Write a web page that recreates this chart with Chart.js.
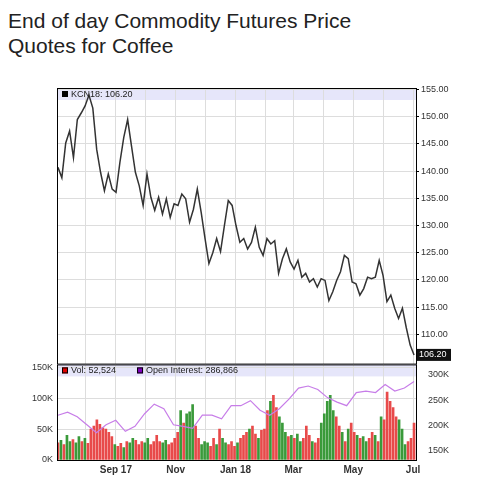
<!DOCTYPE html>
<html>
<head>
<meta charset="utf-8">
<script src="https://cdn.jsdelivr.net/npm/chart.js@4"></script>
<style>
  body { margin: 0; background: #fff; width: 478px; height: 480px; position: relative; overflow: hidden; }
  #title { position: absolute; left: 8px; top: 8px; font: 21px "Liberation Sans", Arial, sans-serif; line-height: 25px; color: #222; }
  #priceWrap { position: absolute; left: 0; top: 80px; width: 478px; height: 291px; }
  #volWrap { position: absolute; left: 0; top: 355px; width: 478px; height: 125px; }
</style>
</head>
<body>
<div id="title">End of day Commodity Futures Price<br>Quotes for Coffee</div>
<div id="priceWrap"><canvas id="priceChart"></canvas></div>
<div id="volWrap"><canvas id="volChart"></canvas></div>
<script>
// days counted from Jul 3 2017
const monthDays = [29, 60, 90, 121, 151, 182, 213, 241, 272, 302, 333, 363];
const monthLabels = { 60: 'Sep 17', 121: 'Nov', 182: 'Jan 18', 241: 'Mar', 302: 'May', 363: 'Jul' };

const price = [140.7, 138.8, 145.2, 147.4, 142.5, 149.5, 150.7, 152, 154, 151.6, 144, 139.8, 136.4, 139.5, 136.7,
  136.1, 141.6, 146.2, 149.5, 144.6, 139.8, 137.3, 133.7, 139.5, 135.2, 132.8, 135.2, 132.1, 134.9, 131.5, 134,
  133.7, 135.8, 134.9, 130.6, 133, 136.7, 132.4, 127.6, 123, 125, 127.6, 125.2, 130, 134.6, 133.7, 130, 126.9,
  127.6, 125.7, 126.9, 129.7, 126, 124.5, 127.6, 126.6, 127.2, 121.2, 123.9, 125.7, 123.3, 122, 123.6, 120.5,
  121.2, 119.6, 120.2, 118.7, 120.2, 119.9, 116.2, 117.8, 119.9, 121.5, 124.5, 123.9, 119.6, 119.3, 117.2, 118.4,
  120.5, 120.2, 120.5, 123.6, 120.8, 116.0, 117.2, 114.8, 112.9, 114.8, 111.2, 108, 106.2];

// volume in K, colour flags (R down / G up)
const volume = [28, 32, 25, 40, 30, 33, 28, 38, 30, 35, 27, 50, 55, 65, 58, 52, 50, 45, 38, 25, 22, 27, 20, 30,
  28, 35, 32, 25, 30, 28, 35, 25, 30, 40, 30, 28, 32, 25, 28, 35, 45, 80, 60, 75, 78, 90, 55, 35, 25, 30, 28, 22,
  35, 25, 50, 35, 28, 25, 30, 22, 28, 35, 40, 45, 50, 55, 42, 35, 48, 50, 80, 95, 105, 85, 70, 60, 45, 38, 40, 35,
  42, 30, 35, 55, 40, 30, 28, 35, 60, 75, 95, 105, 80, 70, 55, 45, 30, 50, 60, 45, 40, 35, 38, 30, 35, 45, 40, 30,
  70, 65, 110, 95, 85, 70, 65, 50, 25, 30, 35, 60];
const volColor = 'RGRGGRGGRGRRRRRRRRRGRRGRGGRRRGGRRRRGGRRRRGRGGGRRGGGRRGRGGRRRGRRRGRRGRRRGRRGGGRGRGGRRRGRRGGGGGRRGRGRRGRGGRRGRGRRRRRGGGRRR';

const openInterest = [220, 226, 217, 201, 185, 201, 210, 188, 198, 223, 242, 233, 201, 198, 194, 220, 220, 213,
  239, 239, 249, 230, 220, 233, 252, 274, 278, 271, 255, 246, 239, 265, 268, 265, 281, 268, 274, 287];

const spread = (arr) => arr.map((v, i) => ({ x: 1 + i * 363 / (arr.length - 1), y: v }));

const frame = {
  id: 'frame',
  beforeDraw(chart, args, opts) {
    const { ctx, chartArea: a } = chart;
    ctx.save();
    ctx.fillStyle = '#e6e6fa';
    ctx.fillRect(a.left, a.top, a.right - a.left, 12);
    ctx.restore();
  },
  afterDraw(chart, args, opts) {
    const { ctx, chartArea: a } = chart;
    ctx.save();
    ctx.strokeStyle = '#000';
    ctx.lineWidth = 1;
    ctx.strokeRect(a.left + 0.5, a.top + 0.5, a.right - a.left, a.bottom - a.top);
    ctx.font = '9px "Liberation Sans", Arial';
    ctx.textBaseline = 'middle';
    let x = a.left + 5;
    opts.items.forEach(it => {
      ctx.fillStyle = it.color;
      ctx.fillRect(x, a.top + 3, 6, 6);
      ctx.strokeStyle = '#000';
      ctx.strokeRect(x + 0.5, a.top + 3.5, 5, 5);
      ctx.fillStyle = '#222';
      ctx.fillText(it.text, x + 9, a.top + 6.5);
      x += ctx.measureText(it.text).width + 30;
    });
    if (opts.lastTag) {
      const y = chart.scales.y.getPixelForValue(opts.lastTag);
      ctx.fillStyle = '#111';
      ctx.fillRect(a.right + 1, y - 6, 34, 12);
      ctx.fillStyle = '#fff';
      ctx.fillText(opts.lastTag.toFixed(2), a.right + 3, y);
    }
    ctx.restore();
  }
};

const xScale = (showTicks) => ({
  type: 'linear', min: 0, max: 366, offset: false,
  afterBuildTicks: s => { s.ticks = monthDays.map(v => ({ value: v })); },
  grid: { color: '#dddddd', drawTicks: false, offset: false },
  border: { display: false },
  ticks: {
    display: showTicks, autoSkip: false, maxRotation: 0, padding: 4,
    font: { size: 10, weight: 'bold', family: 'Liberation Sans' }, color: '#333',
    callback: v => monthLabels[v] || ''
  }
});

new Chart(document.getElementById('priceChart'), {
  type: 'line',
  data: { datasets: [{ data: spread(price), borderColor: '#333', borderWidth: 1.5, pointRadius: 0, tension: 0 }] },
  options: {
    animation: false, responsive: true, maintainAspectRatio: false,
    layout: { padding: { left: 57, top: 8, right: 0, bottom: 0 } },
    plugins: { legend: { display: false }, tooltip: { enabled: false },
      frame: { items: [{ color: '#000', text: 'KCN18: 106.20' }], lastTag: 106.2 } },
    scales: {
      x: xScale(false),
      y: {
        position: 'right', min: 104.6, max: 155.3,
        afterFit: s => { s.width = 62; },
        afterBuildTicks: s => { s.ticks = [110, 115, 120, 125, 130, 135, 140, 145, 150, 155].map(v => ({ value: v })); },
        grid: { color: '#dddddd', drawTicks: true, tickLength: 3, tickColor: '#000' },
        border: { display: false },
        ticks: { font: { size: 9, family: 'Liberation Sans' }, color: '#333', padding: 2, callback: v => v.toFixed(2) }
      }
    }
  },
  plugins: [frame]
});

new Chart(document.getElementById('volChart'), {
  data: {
    datasets: [
      { type: 'line', data: spread(openInterest), yAxisID: 'y2', borderColor: '#c77de8', borderWidth: 1.2, pointRadius: 0 },
      { type: 'bar', data: spread(volume), yAxisID: 'y', barThickness: 2,
        backgroundColor: volume.map((v, i) => volColor[i] === 'G' ? '#3a9a3a' : '#e84a4a') }
    ]
  },
  options: {
    animation: false, responsive: true, maintainAspectRatio: false,
    layout: { padding: { left: 0, top: 8, right: 0, bottom: 0 } },
    plugins: { legend: { display: false }, tooltip: { enabled: false },
      frame: { items: [{ color: '#e00000', text: 'Vol: 52,524' }, { color: '#8000c0', text: 'Open Interest: 286,866' }] } },
    scales: {
      x: xScale(true),
      y: {
        position: 'left', min: 0, max: 155,
        afterFit: s => { s.width = 57; },
        afterBuildTicks: s => { s.ticks = [0, 50, 100, 150].map(v => ({ value: v })); },
        grid: { color: '#dddddd', drawTicks: false },
        border: { display: false },
        ticks: { font: { size: 9, family: 'Liberation Sans' }, color: '#333', padding: 4, callback: v => v + 'K' }
      },
      y2: {
        position: 'right', min: 131, max: 321,
        afterFit: s => { s.width = 62; },
        afterBuildTicks: s => { s.ticks = [150, 200, 250, 300].map(v => ({ value: v })); },
        grid: { display: false },
        border: { display: false },
        ticks: { font: { size: 9, family: 'Liberation Sans' }, color: '#333', padding: 4, callback: v => v + 'K' }
      }
    }
  },
  plugins: [frame]
});
</script>
</body>
</html>
